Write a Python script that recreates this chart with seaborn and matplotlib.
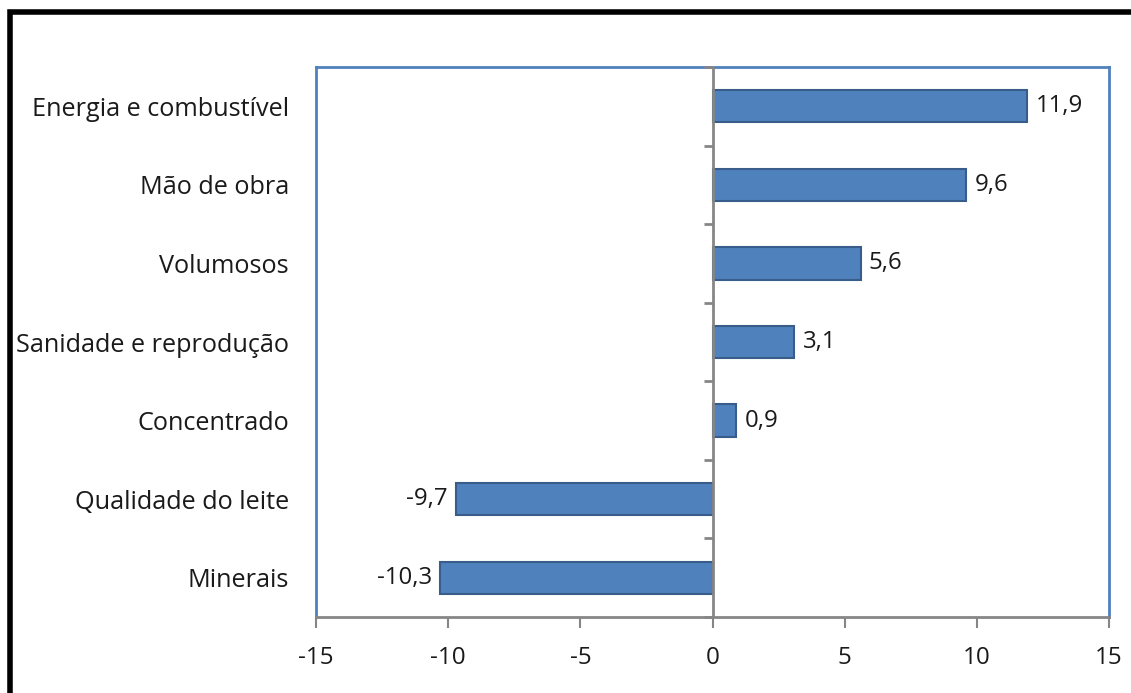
import matplotlib
matplotlib.use("Agg")
import matplotlib.pyplot as plt
from matplotlib.patches import Rectangle
import seaborn as sns
import pandas as pd
import numpy as np

categories = ["Energia e combustível", "Mão de obra", "Volumosos",
              "Sanidade e reprodução", "Concentrado", "Qualidade do leite", "Minerais"]
values = [11.9, 9.6, 5.6, 3.1, 0.9, -9.7, -10.3]
x_ticks = [-15, -10, -5, 0, 5, 10, 15]

sns.set_theme(style="white")
plt.rcParams["font.family"] = ["Open Sans", "DejaVu Sans"]
plt.rcParams["axes.unicode_minus"] = False

df = pd.DataFrame({"cat": categories, "val": values})

fig = plt.figure(figsize=(11.31, 6.93), dpi=100)
ax = fig.add_axes([316/1131, 1-617/693, (1109-316)/1131, (617-67)/693])

sns.barplot(data=df, y="cat", x="val", orient="h", color="#4F81BD",
            edgecolor="#385D8A", linewidth=1.5, width=0.41, saturation=1, ax=ax)

ax.set_xlim(-15, 15)
ax.set_ylim(len(categories) - 0.5, -0.5)
ax.set_xticks(x_ticks)
ax.set_xticklabels([str(t) for t in x_ticks])
ax.set_xlabel("")
ax.set_ylabel("")

ax.tick_params(axis="y", length=0, pad=19.5, labelsize=18.2, labelcolor="#1a1a1a")
ax.tick_params(axis="x", length=8, width=1.5, color="#868686", direction="out",
               pad=13, labelsize=17.5, labelcolor="#1a1a1a", bottom=True)

for side in ["left", "top", "right"]:
    ax.spines[side].set_color("#4F81BD")
    ax.spines[side].set_linewidth(2)
ax.spines["bottom"].set_color("#868686")
ax.spines["bottom"].set_linewidth(2)

# zero line with category separator ticks
ax.axvline(0, color="#868686", linewidth=2, zorder=3)
bounds = np.arange(-0.5, len(categories), 1.0)
ax.hlines(bounds, -0.34, 0, color="#868686", linewidth=2, zorder=3, clip_on=False)

for i, v in enumerate(values):
    lab = f"{v:.1f}".replace(".", ",")
    if v >= 0:
        ax.annotate(lab, (v, i), xytext=(6, 0), textcoords="offset points",
                    ha="left", va="center", fontsize=17.3, color="#1a1a1a")
    else:
        ax.annotate(lab, (v, i), xytext=(-6, 0), textcoords="offset points",
                    ha="right", va="center", fontsize=17.3, color="#1a1a1a")

# outer black frame (cropped chart border)
fig.patches.append(Rectangle((9.5/1131, -0.05), 1.2, 1 - 12/693 + 0.05,
                             transform=fig.transFigure, fill=False,
                             edgecolor="black", linewidth=4, zorder=0))

fig.savefig("out.png", dpi=100)
